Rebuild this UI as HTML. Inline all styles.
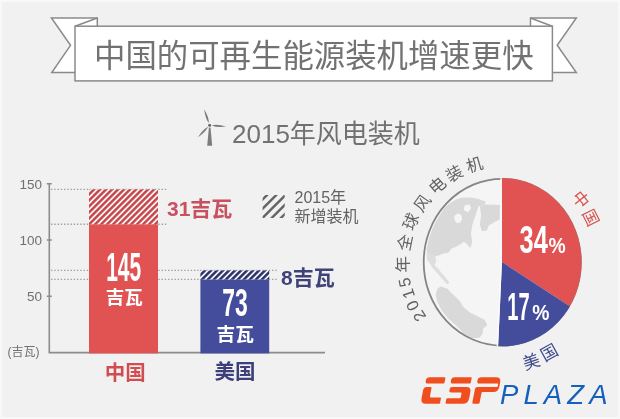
<!DOCTYPE html><html><head><meta charset="utf-8"><title>infographic</title><style>html,body{margin:0;padding:0;background:#f1f1f1;font-family:"Liberation Sans",sans-serif}svg{display:block;filter:blur(0.5px)}svg text{font-family:"Liberation Sans","Noto Sans CJK SC",sans-serif}</style></head><body><svg width="620" height="419" viewBox="0 0 620 419" role="img" aria-label="中国的可再生能源装机增速更快"><title>中国的可再生能源装机增速更快</title><desc>2015年风电装机：中国145吉瓦（2015年新增装机31吉瓦），美国73吉瓦（新增8吉瓦）。2015年全球风电装机：中国34%，美国17%。CSPPLAZA</desc><defs>
<pattern id="hr" width="4.24" height="10" patternUnits="userSpaceOnUse" patternTransform="rotate(45) translate(0 0)"><rect width="4.24" height="10" fill="#fdeee8"/><rect width="2.33" height="10" fill="#c23e48"/></pattern>
<pattern id="hb" width="4.24" height="10" patternUnits="userSpaceOnUse" patternTransform="rotate(45) translate(0 0)"><rect width="4.24" height="10" fill="#e9ecfa"/><rect width="2.46" height="10" fill="#2b3060"/></pattern>
<clipPath id="lh"><path d="M500.6 170H410V355H497Z"/></clipPath>
</defs>
<rect x="1" y="1" width="618" height="417" fill="none" stroke="#f8f8f8" stroke-width="2"/>
<g fill="#fff" stroke="#8a8a8a" stroke-width="1.5" stroke-linejoin="miter">
<path d="M51.5 18H97.3V72.6H51.8L70.5 45.3Z"/>
<path d="M576.3 18H530.5V72.6H576.3L557.2 45.3Z"/>
<path d="M75 26.2L97.3 18M552.4 26.2L530.5 18" fill="none"/>
<rect x="75" y="26.2" width="477.4" height="54.7"/>
</g>
<text x="313.8" y="67" font-size="31.4" text-anchor="middle" fill="#727272">中国的可再生能源装机增速更快</text>
<text x="232" y="142.5" font-size="26" fill="#717171">2015年风电装机</text>
<g fill="#7c7c7c"><path d="M208.9 127.6L207.2 145.8H212.2L210.5 127.6Z"/><path d="M208.89 123.12Q209.14 117.64 204.2 109.3Q205.36 118.92 208.89 123.12Z"/><path d="M211.79 125.38Q216.67 127.8 226.2 126.6Q217 123.82 211.79 125.38Z"/><path d="M208.06 126.78Q203.07 129.03 197.9 137.2Q205.94 131.82 208.06 126.78Z"/><circle cx="209.6" cy="125.2" r="1.5" fill="#666"/></g>
<g stroke="#a0a0a0" stroke-width="1.3" stroke-dasharray="1.4 1.85">
<path d="M51 189.33 H166.5M51 224.24 H166.5M51 270.4 H277M51 279.41 H277"/>
</g>
<path d="M49.3 183.5V352.6 H325M46.8 183.7H51.8M46.8 240H51.8M46.8 296.3H51.8" stroke="#8c8c8c" stroke-width="1.6" fill="none"/>
<rect x="89" y="224.24" width="69" height="129.16" fill="#e15353"/>
<rect x="89" y="189.33" width="69" height="34.91" fill="url(#hr)"/>
<rect x="200.4" y="279.41" width="68.8" height="73.99" fill="#444c9c"/>
<rect x="200.4" y="270.4" width="68.8" height="9.01" fill="url(#hb)"/>
<text x="42" y="188.6" font-size="13.5" text-anchor="end" fill="#707070">150</text>
<text x="42" y="245" font-size="13.5" text-anchor="end" fill="#707070">100</text>
<text x="42" y="301.2" font-size="13.5" text-anchor="end" fill="#707070">50</text>
<text x="7.5" y="356" font-size="12" fill="#707070">(吉瓦)</text>
<text x="123.7" y="281" font-size="40" font-weight="bold" text-anchor="middle" textLength="35" lengthAdjust="spacingAndGlyphs" fill="#fff">145</text>
<text x="124.2" y="304.3" font-size="18.5" font-weight="bold" text-anchor="middle" fill="#fff">吉瓦</text>
<text x="234.9" y="316.4" font-size="39" font-weight="bold" text-anchor="middle" textLength="25.5" lengthAdjust="spacingAndGlyphs" fill="#fff">73</text>
<text x="235.2" y="341.3" font-size="18.7" font-weight="bold" text-anchor="middle" fill="#fff">吉瓦</text>
<text x="167" y="215.7" font-size="21" font-weight="bold" fill="#c9505f">31吉瓦</text>
<text x="281" y="285" font-size="21" font-weight="bold" fill="#3f4379">8吉瓦</text>
<text x="125.3" y="379.6" font-size="20.5" font-weight="bold" text-anchor="middle" fill="#d24d50">中国</text>
<text x="235" y="379" font-size="20.5" font-weight="bold" text-anchor="middle" fill="#3c3f7a">美国</text>
<clipPath id="lg"><rect x="262.6" y="195" width="22.1" height="22.9"/></clipPath>
<g clip-path="url(#lg)" stroke="#646464" stroke-width="2.4"><path d="M222.9 230L272.9 180"/><path d="M232.1 230L282.1 180"/><path d="M241.3 230L291.3 180"/><path d="M250.5 230L300.5 180"/><path d="M259.7 230L309.7 180"/><path d="M268.9 230L318.9 180"/><path d="M278.1 230L328.1 180"/></g>
<text x="294.5" y="203.2" font-size="16" fill="#626262">2015年</text>
<text x="294.5" y="221.5" font-size="16" fill="#626262">新增装机</text>
<clipPath id="pc"><ellipse cx="502.3" cy="262.2" rx="79.3" ry="84.1"/></clipPath>
<ellipse cx="502.3" cy="262.2" rx="78.6" ry="83.4" fill="#f5f5f5" stroke="#858585" stroke-width="1.8"/>
<g clip-path="url(#lh)" fill="#d9d9d9" stroke="#d9d9d9" stroke-width="1.2" stroke-linejoin="round">
<path d="M427.1 250L429.2 240L432.5 230L437.3 220L441.8 213L444.7 208.2L449.3 204.3L455.5 200.4L461.7 198.4L471 198.1L478.8 199.7L485 202L484.2 204.3L478 205.9L476.5 210.5L474.1 217.5L471.8 224.5L470.3 233.8L471.5 241.5L470.3 247L467 243L463.5 241L460.3 243.6L455.5 246.2L451 248.3L447.8 252.4L443.3 253L435.5 256L428.5 254.5Z"/>
<path d="M455 216L458 214L461 215.5L461.5 219L460 222L457 222.5L455 220Z" fill="#f5f5f5" stroke="#f5f5f5"/>
<path d="M465 206L469 205L470.5 208L468 211.5L464.5 210Z" fill="#f5f5f5" stroke="#f5f5f5"/>
<path d="M480.6 206.6L486.5 205.1L500.5 205.5L500.8 218.3L494.3 221.4L488.1 225.3L486.5 229.9L482.2 230.4L480.6 224.5L481.6 215.2Z"/>
<path d="M427 253.7L434.7 256L435.5 260.7L434 265.6L437.8 269.2L441.7 273.9L445.6 278.5L448.7 282.7L447.1 283.6L443.3 279.3L439.4 274.6L435.5 270.3L432.4 266.9L430.9 263.8L427.8 259.9Z" fill="#dedede" stroke="#dedede"/>
<path d="M440.9 287L447 289.3L453.3 295.5L459.5 301.7L463.4 307.9L470.3 313.4L478.1 317.2L484.3 320.3L486.6 325L482.7 328.1L482 333.5L479 337.2L472 337.6L465 333.6L456.4 325L448.6 318L442.4 310.3L437.8 301.7L436.2 294.7L437.8 289.3Z"/>
</g>
<g clip-path="url(#pc)">
<path d="M502 262.1L501.7 100L700 100L703 393.2Z" fill="#e15353"/>
<path d="M502 262.1L703 393.2L600 500L491.18 500Z" fill="#444c9c"/>
<path d="M500.9 100L501.2 262.1L490.38 500" stroke="#fbfbfb" stroke-width="1.5" fill="none"/>
</g>
<text x="519.5" y="253.4" font-size="38" font-weight="bold" textLength="28.3" lengthAdjust="spacingAndGlyphs" fill="#fff">34</text>
<text x="548.4" y="253.2" font-size="22" font-weight="bold" textLength="17.2" lengthAdjust="spacingAndGlyphs" fill="#fff">%</text>
<text x="507.3" y="320" font-size="38" font-weight="bold" textLength="22.4" lengthAdjust="spacingAndGlyphs" fill="#fff">17</text>
<text x="532.2" y="319.8" font-size="22" font-weight="bold" textLength="17.2" lengthAdjust="spacingAndGlyphs" fill="#fff">%</text>
<g font-size="16.5" text-anchor="middle" fill="#626262">
<text transform="translate(419.2 316) rotate(-123)" x="0" y="5.9">2</text>
<text transform="translate(412.4 305.6) rotate(-116)" x="0" y="5.9">0</text>
<text transform="translate(408.2 293.7) rotate(-108.5)" x="0" y="5.9">1</text>
<text transform="translate(404.6 282.4) rotate(-101.7)" x="0" y="5.9">5</text>
<text transform="translate(402.5 264.4) rotate(-91.3)" x="0" y="6.2">年</text>
<text transform="translate(404.7 242.5) rotate(-78.6)" x="0" y="6.2">全</text>
<text transform="translate(410.7 221.5) rotate(-66)" x="0" y="6.2">球</text>
<text transform="translate(422 203) rotate(-53.8)" x="0" y="6.2">风</text>
<text transform="translate(437.2 185.3) rotate(-41)" x="0" y="6.2">电</text>
<text transform="translate(454.2 173.2) rotate(-29)" x="0" y="6.2">装</text>
<text transform="translate(474.4 164.6) rotate(-16.3)" x="0" y="6.2">机</text>
</g>
<g font-size="16.5" text-anchor="middle" fill="#d9534f">
<text transform="translate(580.9 199.4) rotate(51.4)" x="0" y="6.2">中</text>
<text transform="translate(591.1 217.6) rotate(63.4)" x="0" y="6.2">国</text>
</g>
<g font-size="17" text-anchor="middle" fill="#3f4a8c">
<text transform="translate(531.3 361.4) rotate(-19)" x="0" y="6.4">美</text>
<text transform="translate(549.1 352.3) rotate(-29)" x="0" y="6.4">国</text>
</g>
<g transform="matrix(1 0 -0.194 1 425.64 377.3)" fill="#f04e1f">
<path d="M0.8 3.1Q0.8 0 4 0L19.1 0Q19.9 0 19.9 0.8L19.9 5.4Q19.9 6.2 19.1 6.2L3.4 6.2Q0.8 6.2 0.8 3.6ZM0 12.3Q0 9.8 2.5 9.8L7 9.8Q8 9.8 8 10.8L8 18.7Q8 20.2 9.5 20.2L18.6 20.2Q19.4 20.2 19.4 21L19.4 25.7Q19.4 26.5 18.6 26.5L5.5 26.5Q0 26.5 0 21Z"/>
<path d="M25.9 3.1Q25.9 0 29.1 0L45.4 0Q46.2 0 46.2 0.8L46.2 5.4Q46.2 6.2 45.4 6.2L28.5 6.2Q25.9 6.2 25.9 3.6ZM26.3 11.8Q26.3 9.8 28.3 9.8L42.6 9.8Q47.6 9.8 47.6 14.8L47.6 21Q47.6 26.5 42.1 26.5L25.9 26.5Q24.9 26.5 24.9 25.5L24.9 21.9Q24.9 20.9 25.9 20.9L37.8 20.9Q39 20.9 39 19.7L39 16.3Q39 15.1 37.8 15.1L28.3 15.1Q26.3 15.1 26.3 13.1Z"/>
<path d="M52.4 3.1Q52.4 0 55.6 0L70.5 0Q75.5 0 75.5 5L75.5 9.75Q75.5 14.75 70.5 14.75L59.9 14.75Q58.9 14.75 58.9 15.75L58.9 25.5Q58.9 26.5 57.9 26.5L53.1 26.5Q51.6 26.5 51.6 25L51.6 12Q51.6 9.8 53.8 9.8L73 9.8Q73.8 9.8 73.8 9L73.8 7Q73.8 6.2 73 6.2L55 6.2Q52.4 6.2 52.4 3.6Z"/>
</g>
<text x="500" y="404.4" font-size="27.5" font-style="italic" textLength="107.5" lengthAdjust="spacing" fill="#1560bb">PLAZA</text></svg></body></html>
